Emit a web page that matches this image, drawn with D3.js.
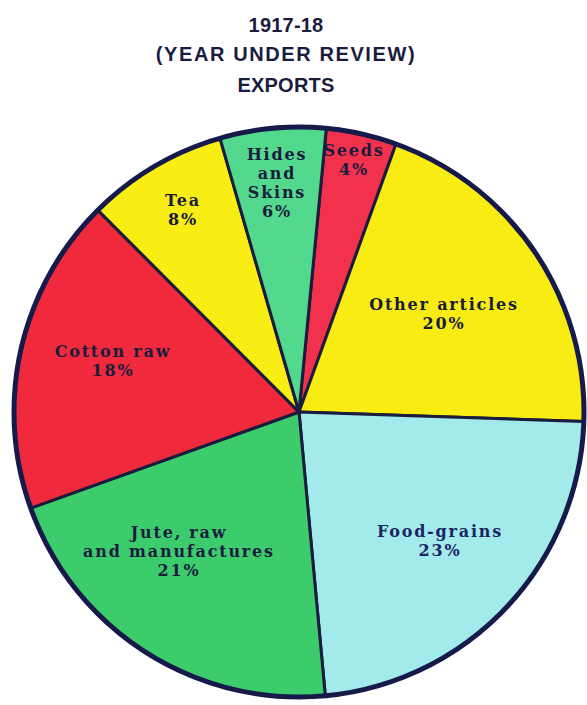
<!DOCTYPE html>
<html>
<head>
<meta charset="utf-8">
<script src="https://cdn.jsdelivr.net/npm/d3@7"></script>
<style>
  html, body { margin: 0; padding: 0; background: #ffffff; }
  svg { display: block; }
</style>
</head>
<body>
<svg id="chart" width="587" height="705"></svg>
<script>
// ---- data (clockwise from the top) ----
const categories = ["Seeds", "Other articles", "Food-grains", "Jute, raw and manufactures", "Cotton raw", "Tea", "Hides and Skins"];
const shares = [4, 20, 23, 21, 18, 8, 6];
const labelLines = [
  ["Seeds", "4%"],
  ["Other articles", "20%"],
  ["Food-grains", "23%"],
  ["Jute, raw", "and manufactures", "21%"],
  ["Cotton raw", "18%"],
  ["Tea", "8%"],
  ["Hides", "and", "Skins", "6%"]
];
const titleLines = ["1917-18", "(YEAR UNDER REVIEW)", "EXPORTS"];

// ---- styles ----
const sliceColors = ["#f2314c", "#f9ec12", "#a3ebeb", "#3dcc6c", "#f02a3c", "#f9ee14", "#52d98d"];
const ink = "#1a1c3e";
const cx = 299, cy = 412, R = 285;
const startDeg = 5.5;
const labelPos = [
  {x: 354, y: 150.5}, {x: 444, y: 304.5}, {x: 440, y: 531.5}, {x: 179, y: 532},
  {x: 113, y: 351.5}, {x: 183, y: 200}, {x: 277, y: 154}
];
const lineGap = 19;

const svg = d3.select("#chart");

// title
const titleY = [25, 54, 85];
const titleSpacing = [0.2, 1.6, 0.2];
titleLines.forEach((t, i) => {
  svg.append("text")
    .attr("x", 286).attr("y", titleY[i])
    .attr("text-anchor", "middle")
    .attr("dominant-baseline", "central")
    .attr("font-family", "'Liberation Sans', Arial, sans-serif")
    .attr("font-weight", "bold")
    .attr("font-size", 20)
    .attr("letter-spacing", titleSpacing[i])
    .attr("fill", ink)
    .text(t);
});

// pie
const pie = d3.pie().sort(null).value(d => d)
  .startAngle(startDeg * Math.PI / 180)
  .endAngle((startDeg + 360) * Math.PI / 180);
const arc = d3.arc().innerRadius(0).outerRadius(R);
const arcs = pie(shares);

const g = svg.append("g").attr("transform", `translate(${cx},${cy})`);
g.selectAll("path.slice")
  .data(arcs)
  .join("path")
  .attr("class", "slice")
  .attr("d", arc)
  .attr("fill", (d, i) => sliceColors[i])
  .attr("stroke", ink)
  .attr("stroke-width", 3)
  .attr("stroke-linejoin", "round");

// outer rim
g.append("circle")
  .attr("r", R)
  .attr("fill", "none")
  .attr("stroke", "#161a4a")
  .attr("stroke-width", 5);

// labels
const lg = svg.append("g");
arcs.forEach((a, i) => {
  const p = labelPos[i];
  labelLines[i].forEach((ln, j) => {
    lg.append("text")
      .attr("x", p.x).attr("y", p.y + j * lineGap)
      .attr("text-anchor", "middle")
      .attr("dominant-baseline", "central")
      .attr("font-family", "'DejaVu Serif', serif")
      .attr("font-weight", "bold")
      .attr("font-size", 16)
      .attr("letter-spacing", 1.8)
      .attr("fill", i === 2 ? "#1c2466" : ink)
      .text(ln);
  });
});
</script>
</body>
</html>
